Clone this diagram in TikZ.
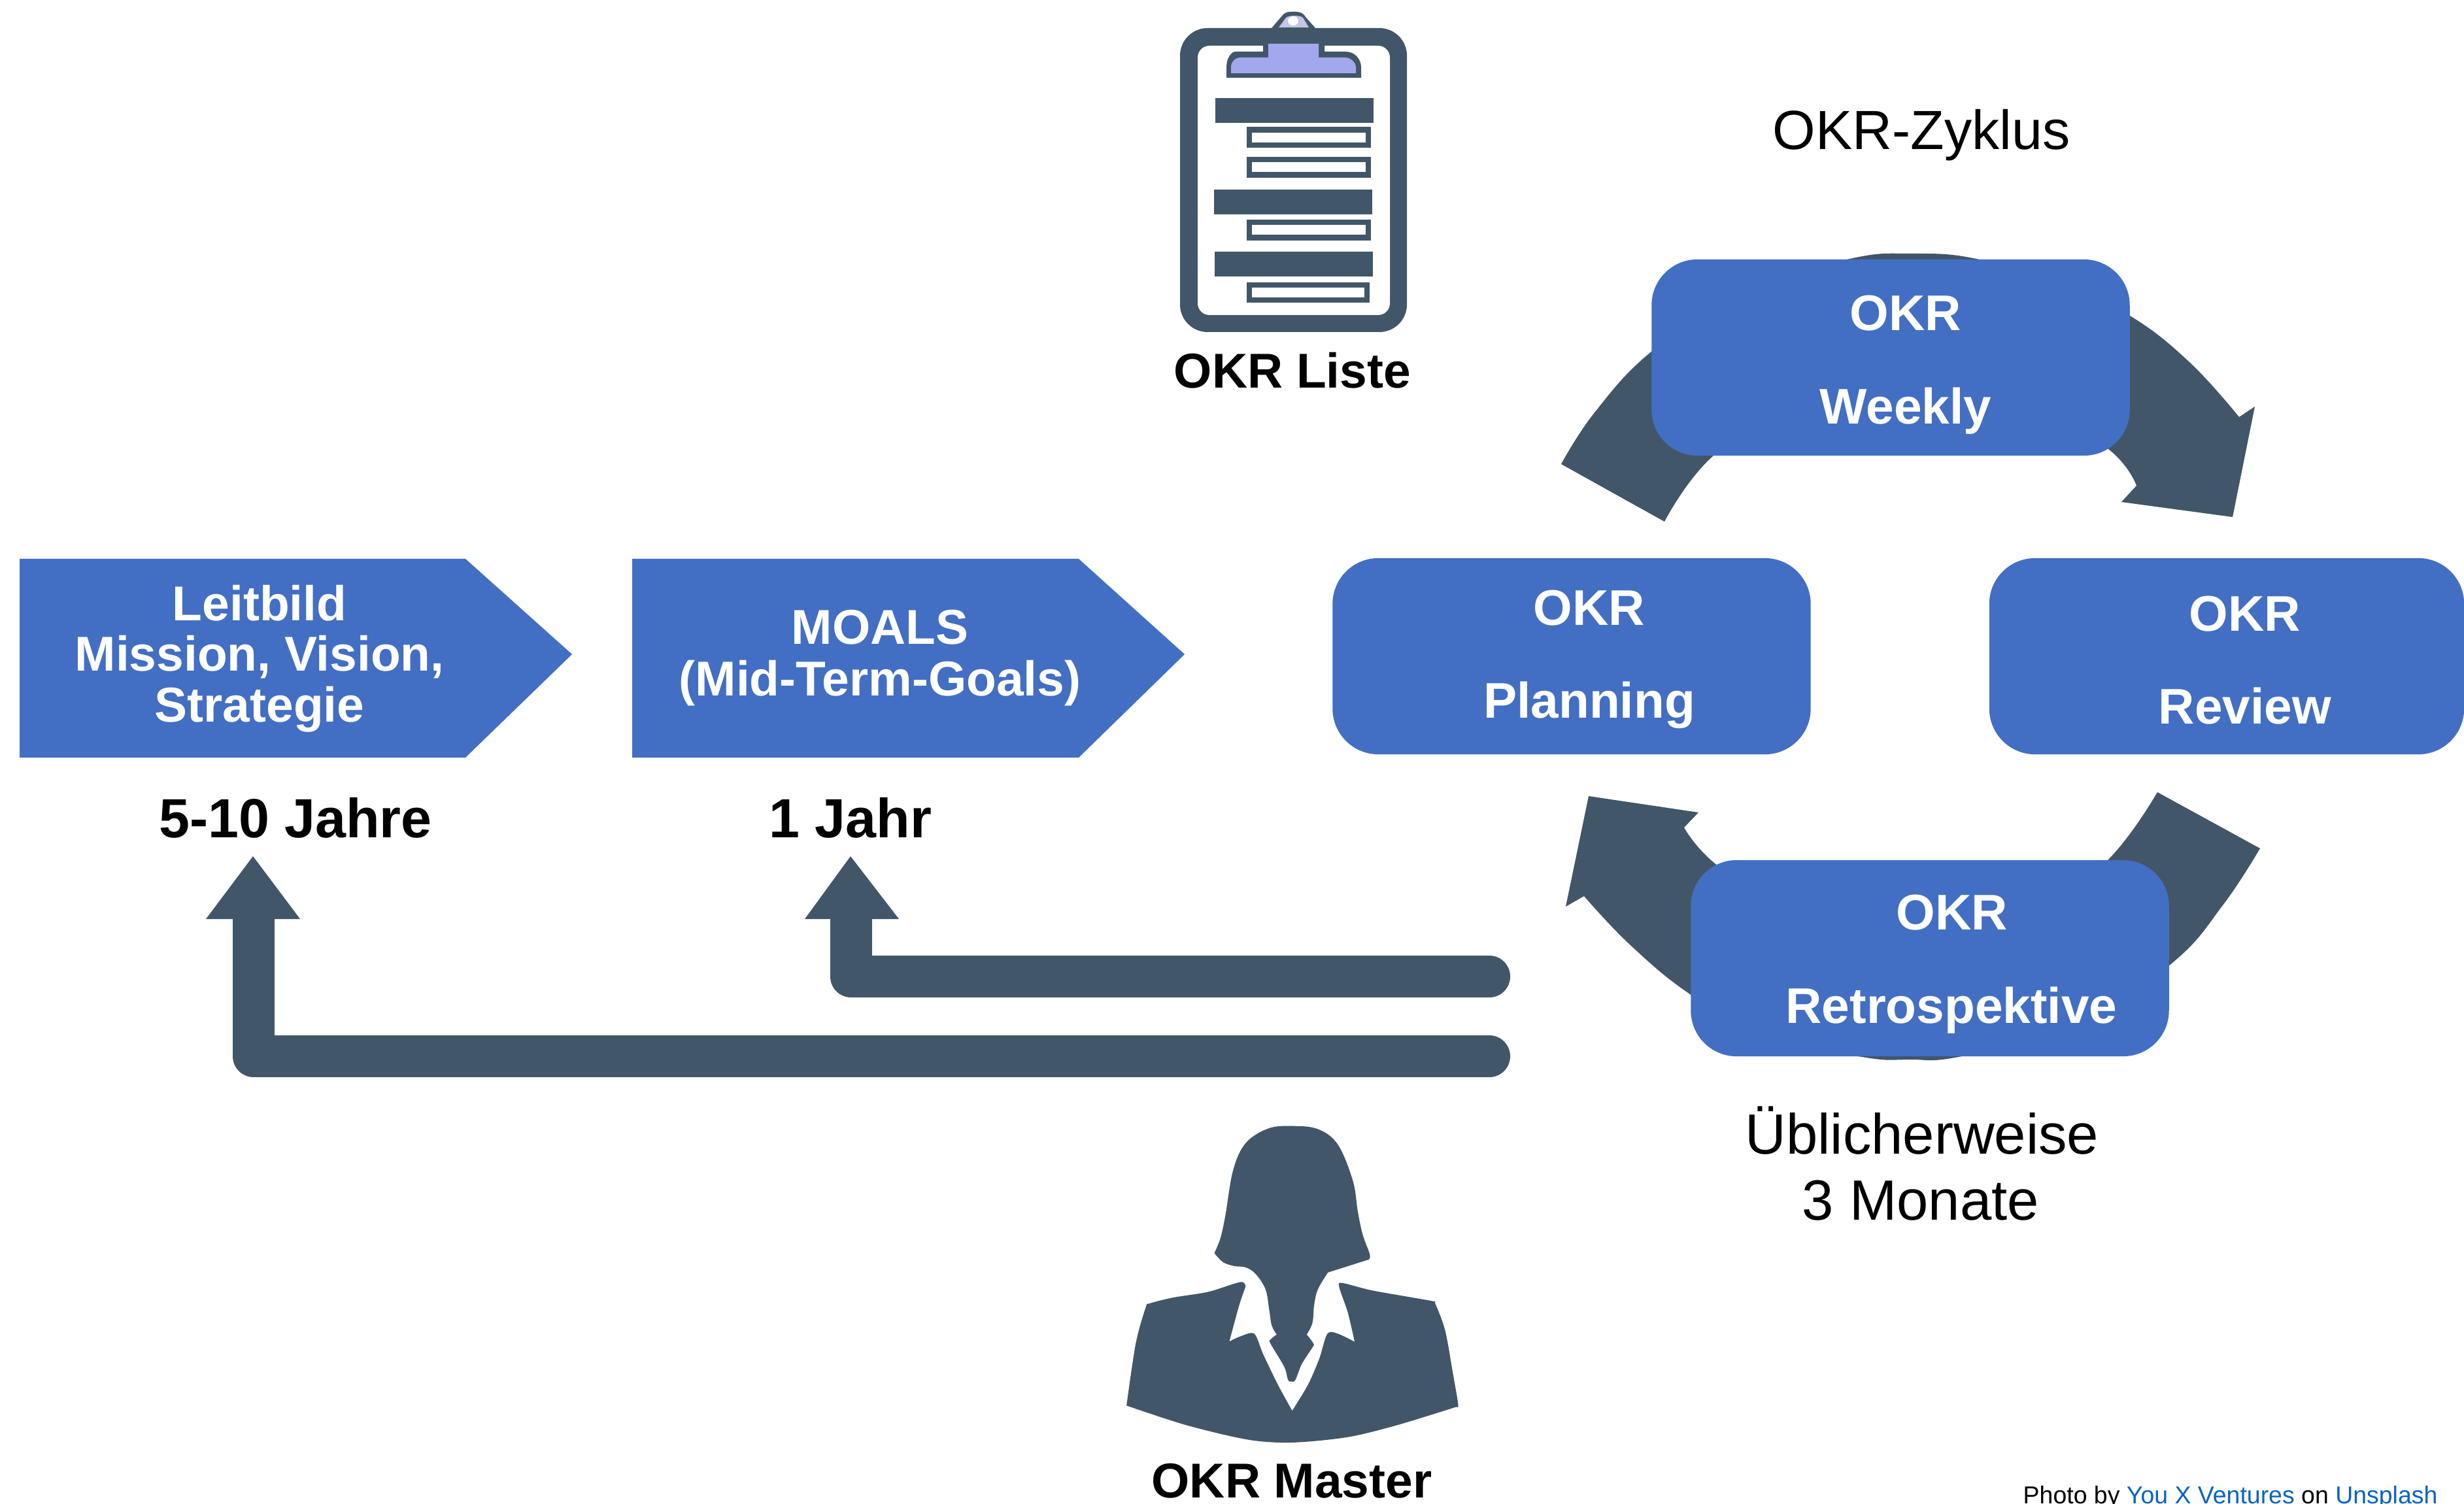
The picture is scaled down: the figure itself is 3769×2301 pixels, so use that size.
\documentclass[tikz,border=0pt]{standalone}
\usepackage{fontspec}
\setmainfont{Liberation Sans}
\definecolor{okrblue}{HTML}{426FC3}
\definecolor{okrdark}{HTML}{425669}
\definecolor{okrlav}{HTML}{A3A8EE}
\definecolor{okrlav2}{HTML}{C5C5E5}
\definecolor{okrlink}{HTML}{0B63C1}
\tikzset{
  cyclebox/.style={fill=okrblue,rounded corners=0.7cm,minimum height=3.0cm,minimum width=7.31cm,inner sep=0pt},
  txtbase/.style={inner sep=0pt,anchor=base,align=center},
  boxtxt/.style={txtbase,text=white,font=\fontsize{21.8}{26}\selectfont\bfseries},
  chevtxt/.style={txtbase,text=white,font=\fontsize{21.3}{26}\selectfont\bfseries},
  headtxt/.style={txtbase,font=\fontsize{21.3}{26}\selectfont\bfseries},
  timetxt/.style={txtbase,font=\fontsize{24}{28}\selectfont\bfseries},
  plaintxt/.style={txtbase,font=\fontsize{24.7}{29}\selectfont},
  chevron/.style={fill=okrblue},
  darkfill/.style={fill=okrdark},
  thickline/.style={draw=okrdark,line width=0.64cm,line cap=round,line join=round}
}
\begin{document}
\begin{tikzpicture}[x=0.01cm,y=-0.01cm]
\useasboundingbox (0,0) rectangle (3769,2301);
\fill[white] (0,0) rectangle (3769,2301);

% chevrons
\fill[chevron] (30,855) -- (712,855) -- (875,1001) -- (712,1159) -- (30,1159) -- cycle;
\fill[chevron] (967,855) -- (1650,855) -- (1812,1001) -- (1650,1159) -- (967,1159) -- cycle;
\node[chevtxt] (l1) at (397,950) {Leitbild};
\node[chevtxt] (l2) at (397,1027) {Mission, Vision,};
\node[chevtxt] (l3) at (397,1105) {Strategie};
\node[chevtxt] (m1) at (1346,986) {MOALS};
\node[chevtxt] (m2) at (1346,1064) {(Mid-Term-Goals)};
\node[timetxt] (t1) at (452,1281) {5-10 Jahre};
\node[timetxt] (t2) at (1301,1281) {1 Jahr};

% L-shaped arrows
\coordinate (upperEnd) at (2278,1494);
\coordinate (upperBend) at (1302,1494);
\coordinate (upperTop) at (1302,1400);
\coordinate (lowerEnd) at (2278,1616);
\coordinate (lowerBend) at (388,1616);
\coordinate (lowerTop) at (388,1400);
\draw[thickline] (upperEnd) -- (upperBend) -- (upperTop);
\draw[thickline] (lowerEnd) -- (lowerBend) -- (lowerTop);
\fill[darkfill] (1301,1310) -- (1375,1406) -- (1231,1406) -- cycle;
\fill[darkfill] (387,1310) -- (459,1406) -- (315,1406) -- cycle;

% cycle arrows
\fill[darkfill] plot[smooth,tension=0.7] coordinates {(2388,710) (2440,630) (2527,537) (2660,448) (2825,397) (2925,388) (3028,397) (3161,438) (3261,485) (3350,555) (3425,638)}
  -- (3449,622) -- (3415,791) -- (3245,768) -- (3268,743)
  -- plot[smooth,tension=0.7] coordinates {(3268,743) (3225,687) (3100,610) (2925,570) (2760,610) (2621,697) (2546,798)} -- cycle;
\fill[darkfill] plot[smooth,tension=0.7] coordinates {(3457,1298) (3400,1385) (3323,1473) (3180,1570) (3001,1616) (2921,1621) (2848,1617) (2700,1585) (2588,1523) (2495,1447) (2423,1371)}
  -- (2395,1387) -- (2430,1218) -- (2598,1243) -- (2576,1266)
  -- plot[smooth,tension=0.7] coordinates {(2576,1266) (2628,1325) (2760,1410) (2925,1450) (3100,1410) (3223,1317) (3300,1212)} -- cycle;

\node[cyclebox] (weekly) at (2892,547) {};
\node[cyclebox] (planning) at (2404,1004) {};
\node[cyclebox,minimum width=7.26cm] (review) at (3406,1004) {};
\node[cyclebox] (retro) at (2952,1466) {};
\node[boxtxt] at (2915,506) {OKR};
\node[boxtxt] at (2915,649) {Weekly};
\node[boxtxt] at (2431,957) {OKR};
\node[boxtxt] at (2431,1099) {Planning};
\node[boxtxt] at (3434,966) {OKR};
\node[boxtxt] at (3434,1108) {Review};
\node[boxtxt] at (2986,1422) {OKR};
\node[boxtxt] at (2985,1565) {Retrospektive};

\node[plaintxt,font=\fontsize{24}{29}\selectfont] (zyklus) at (2939,229) {OKR-Zyklus};
\node[plaintxt] (ueb1) at (2940,1765) {Üblicherweise};
\node[plaintxt] (ueb2) at (2938,1866) {3 Monate};

% clipboard
\fill[darkfill] (1945,43) -- (1963,22) .. controls (1968,18) and (1972,18) .. (1976,18) -- (1982,18) .. controls (1988,18) and (1994,20) .. (1997,26) -- (2012,43) -- cycle;
\fill[okrlav2] (1956,42) -- (1967,27) .. controls (1972,23) and (1988,23) .. (1993,27) -- (2002,42) -- cycle;
\fill[white] (1978,32) ellipse (8 and 7);
\fill[darkfill,rounded corners=0.42cm] (1805,43) rectangle (2152,508);
\fill[white,rounded corners=0.18cm] (1832,70) rectangle (2126,482);
\fill[darkfill] (1932,67) -- (2026,67) -- (2026,79) -- (2058,79) .. controls (2072,79) and (2082,90) .. (2082,103) -- (2082,119) -- (1876,119) -- (1876,103) .. controls (1876,88) and (1884,79) .. (1890,79) -- (1932,79) -- cycle;
\fill[okrlav] (1940,67) -- (2017,67) -- (2017,88) -- (2058,88) .. controls (2066,88) and (2074,96) .. (2074,103) -- (2074,112) -- (1883,112) -- (1883,103) .. controls (1883,94) and (1890,88) .. (1898,88) -- (1940,88) -- cycle;
\fill[darkfill] (1859,150) rectangle (2101,188);
\fill[darkfill] (1857,290) rectangle (2099,328);
\fill[darkfill] (1858,385) rectangle (2100,423);
\fill[darkfill] (1907,194.5) rectangle (2097,226.5);
\fill[white] (1915,203) rectangle (2089,218);
\fill[darkfill] (1907,240) rectangle (2097,272);
\fill[white] (1915,248) rectangle (2089,263);
\fill[darkfill] (1907,336) rectangle (2097,368);
\fill[white] (1915,344) rectangle (2089,359);
\fill[darkfill] (1907,432) rectangle (2095,463.5);
\fill[white] (1915,440) rectangle (2087,455);
\node[headtxt] (liste) at (1977,594) {OKR Liste};

% person
\begin{scope}[shift={(1680,1680)},xscale=0.3817,yscale=0.3953]
\fill[darkfill] plot[smooth,tension=0.6] coordinates {(465,600) (490,540) (510,450) (540,280) (590,175) (680,118) (775,108) (880,120) (960,180) (1020,320) (1040,440) (1060,530) (1088,605) (1083,625)}
  -- (920,675)
  -- plot[smooth,tension=0.6] coordinates {(920,675) (880,740) (865,800) (858,870) (835,915)}
  -- plot[smooth,tension=0.6] coordinates {(835,915) (862,950) (858,965) (815,1030) (790,1090) (775,1097) (760,1090) (745,1040) (690,950) (690,935) (715,915)}
  -- plot[smooth,tension=0.6] coordinates {(715,915) (695,880) (685,820) (670,740) (630,680) (590,655) (545,650) (500,635) (465,600)} -- cycle;
\fill[darkfill] plot[smooth,tension=0.5] coordinates {(113,1190) (150,950) (190,810) (205,795) (300,772) (440,750) (570,712) (590,730)}
  -- plot[smooth,tension=0.5] coordinates {(590,730) (565,800) (525,942)}
  -- plot[smooth,tension=0.5] coordinates {(525,942) (570,922) (625,912) (660,990) (720,1110) (777,1210)}
  -- plot[smooth,tension=0.5] coordinates {(777,1210) (840,1110) (885,1010) (918,912) (960,912) (1027,943)}
  -- plot[smooth,tension=0.5] coordinates {(1027,943) (1000,830) (965,730) (980,716) (1100,745) (1335,785) (1350,795) (1390,900) (1420,1060) (1442,1185) (1435,1195)}
  -- plot[smooth,tension=0.5] coordinates {(1435,1195) (1200,1265) (1000,1312) (777,1333) (600,1322) (350,1265) (113,1190)} -- cycle;
\end{scope}
\node[headtxt] (master) at (1976,2291) {OKR Master};

\node[inner sep=0pt,anchor=base west,font=\fontsize{10.65}{13}\selectfont] (credit) at (3094,2300) {Photo by \textcolor{okrlink}{You X Ventures} on \textcolor{okrlink}{Unsplash}};
\end{tikzpicture}
\end{document}
